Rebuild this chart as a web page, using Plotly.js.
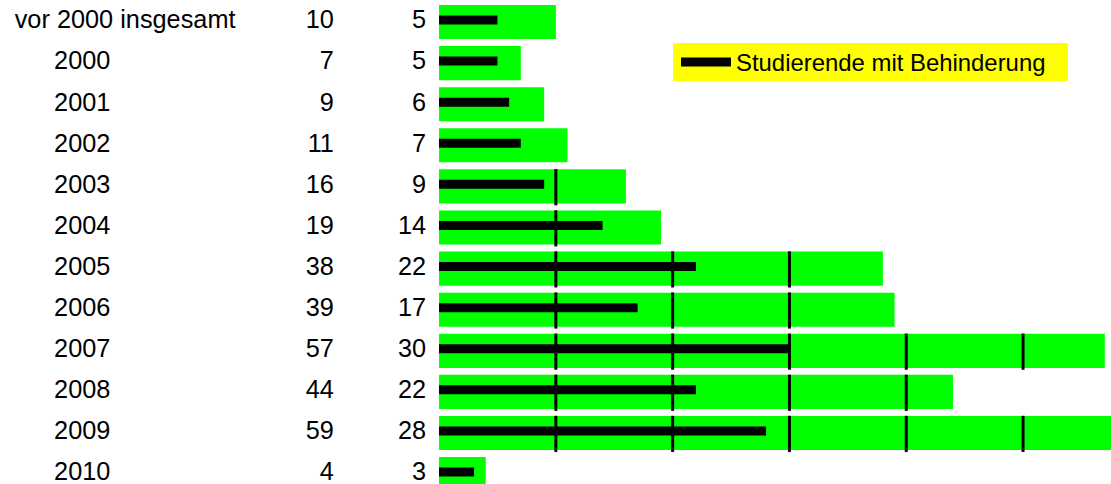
<!DOCTYPE html>
<html>
<head>
<meta charset="utf-8">
<script src="https://cdn.plot.ly/plotly-3.0.1.min.js"></script>
<style>html,body{margin:0;padding:0;background:#fff;}#chart{width:1111px;height:484px;}</style>
</head>
<body>
<div id="chart"></div>
<script>
// ---- data ----
const categories = ["vor 2000 insgesamt", "2000", "2001", "2002", "2003", "2004", "2005", "2006", "2007", "2008", "2009", "2010"];
const totals = [10, 7, 9, 11, 16, 19, 38, 39, 57, 44, 59, 4];
const disabled = [5, 5, 6, 7, 9, 14, 22, 17, 30, 22, 28, 3];
const seriesName = "Studierende mit Behinderung";

// ---- layout helpers ----
const FONT = "Liberation Sans, Arial, sans-serif";
const LABEL_SIZE = 25.3;
const idx = categories.map((_, i) => i);

const greenBars = {
  type: "bar", orientation: "h",
  x: totals, y: idx, base: 0, width: 0.83,
  marker: { color: "#00ff00", line: { width: 0 } },
  showlegend: false, hoverinfo: "skip"
};

// black thin bars as thick lines (one segment per category)
const bx = [], by = [];
disabled.forEach((v, i) => { bx.push(0, v, null); by.push(i - 0.05, i - 0.05, null); });
const blackBars = {
  type: "scatter", mode: "lines", x: bx, y: by,
  line: { color: "#000000", width: 9 },
  name: seriesName, hoverinfo: "skip"
};

const labelTrace = {
  type: "scatter", mode: "text",
  x: idx.map(i => i === 0 ? -36.33 : -32.96), y: idx,
  text: categories, textposition: "middle right",
  textfont: { family: FONT, size: LABEL_SIZE, color: "#000" },
  showlegend: false, hoverinfo: "skip"
};
const totalTrace = {
  type: "scatter", mode: "text",
  x: idx.map(() => -9.0), y: idx,
  text: totals.map(String), textposition: "middle left",
  textfont: { family: FONT, size: LABEL_SIZE, color: "#000" },
  showlegend: false, hoverinfo: "skip"
};
const disTrace = {
  type: "scatter", mode: "text",
  x: idx.map(() => -1.1), y: idx,
  text: disabled.map(String), textposition: "middle left",
  textfont: { family: FONT, size: LABEL_SIZE, color: "#000" },
  showlegend: false, hoverinfo: "skip"
};

// vertical black separators every 10 units inside green bars
const shapes = [];
totals.forEach((t, i) => {
  for (let k = 10; k < t - 1.5; k += 10) {
    shapes.push({ type: "line", xref: "x", yref: "y", x0: k, x1: k, y0: i - 0.42, y1: i + 0.46,
      line: { color: "#000", width: 3 }, layer: "above" });
  }
});
// yellow legend box
shapes.push({ type: "rect", xref: "paper", yref: "paper",
  x0: 673 / 1111, x1: 1068 / 1111, y0: 1 - 81 / 484, y1: 1 - 43 / 484,
  fillcolor: "#ffff00", line: { width: 0 }, layer: "below" });

const layout = {
  width: 1111, height: 484,
  margin: { l: 0, r: 0, t: 0, b: 0 },
  paper_bgcolor: "#fff", plot_bgcolor: "rgba(0,0,0,0)",
  font: { family: FONT, size: 24, color: "#000" },
  xaxis: { range: [-37.59, 57.53], showgrid: false, zeroline: false, showticklabels: false, ticks: "", fixedrange: true },
  yaxis: { range: [11.24, -0.535], showgrid: false, zeroline: false, showticklabels: false, ticks: "", fixedrange: true },
  showlegend: true,
  legend: {
    x: 676 / 1111, y: 1 - 40 / 484, xanchor: "left", yanchor: "top",
    bgcolor: "rgba(0,0,0,0)", borderwidth: 0,
    font: { family: FONT, size: 23.9, color: "#000" },
    itemwidth: 50
  },
  shapes: shapes
};

Plotly.newPlot("chart", [greenBars, blackBars, labelTrace, totalTrace, disTrace], layout, { staticPlot: true, displayModeBar: false });
</script>
</body>
</html>
